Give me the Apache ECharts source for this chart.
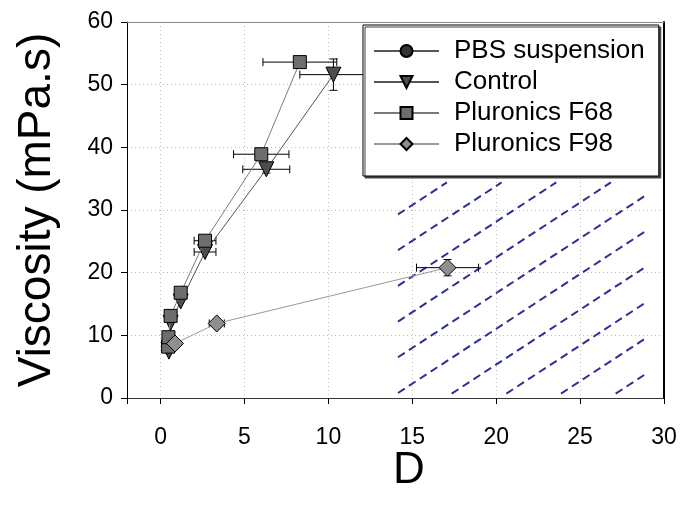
<!DOCTYPE html>
<html><head><meta charset="utf-8">
<script src="https://cdn.jsdelivr.net/npm/echarts@6/dist/echarts.min.js"></script>
<style>html,body{margin:0;padding:0;background:#fff}#c{width:682px;height:513px}</style>
</head><body><div id="c"></div>
<script>
// ---- data ----
const seriesNames = ['PBS suspension', 'Control', 'Pluronics F68', 'Pluronics F98'];
// each point: [D, viscosity, xError, yError]
const pbs = [[0.45, 8.0, 0, 0]];
const control = [[0.5, 7.4, 0, 0], [0.6, 12.0, 0, 0], [1.2, 15.4, 0, 0], [2.65, 23.3, 0.65, 0], [6.3, 36.5, 1.4, 0.6], [10.3, 51.6, 2.0, 2.5]];
const f68 = [[0.45, 8.2, 0, 0], [0.47, 9.7, 0, 0], [0.6, 13.1, 0, 0], [1.2, 16.8, 0, 0], [2.65, 25.1, 0.65, 0], [6.0, 38.9, 1.65, 0], [8.3, 53.6, 2.2, 0]];
const f98 = [[0.86, 8.7, 0, 0], [3.35, 11.9, 0.45, 0], [17.1, 20.8, 1.85, 1.3]];
const xTickLabels = ['0', '5', '10', '15', '20', '25', '30'];
const yTickLabels = ['0', '10', '20', '30', '40', '50', '60'];
const xTitle = 'D';
const yTitle = 'Viscosity (mPa.s)';
// hatched region: parallel dashed lines y = b + slope*(x - xMin) clipped to a box
const hatchIntercepts = [29.3, 23.6, 17.9, 12.2, 6.5, 0.8, -4.9, -10.6, -16.3, -22.0];
const hatchSlope = 1.75;
const hatchBox = { xMin: 14.15, xMax: 29, yMin: 0.7, yMax: 34.4 };

// ---- build ----
const FONT = 'Liberation Sans, Arial, sans-serif';
const hatchSeries = [];
hatchIntercepts.forEach((b, i) => {
  const xa = Math.max(hatchBox.xMin, hatchBox.xMin + (hatchBox.yMin - b) / hatchSlope);
  const xb = Math.min(hatchBox.xMax, hatchBox.xMin + (hatchBox.yMax - b) / hatchSlope);
  if (xa < xb) {
    hatchSeries.push({
      type: 'line', name: 'hatch' + i, silent: true, symbol: 'none', z: 1,
      data: [[xa, b + hatchSlope * (xa - hatchBox.xMin)], [xb, b + hatchSlope * (xb - hatchBox.xMin)]],
      lineStyle: { color: '#2d2f96', width: 2, type: [8, 5] }
    });
  }
});

function errorSeries(data, name) {
  return {
    type: 'custom', name: name, silent: true, z: 2,
    data: data.filter(d => d[2] > 0 || d[3] > 0),
    encode: { x: 0, y: 1 },
    renderItem: function (params, api) {
      const x = api.value(0), y = api.value(1), ex = api.value(2), ey = api.value(3);
      const st = { stroke: '#000', lineWidth: 1 };
      const ch = [];
      const cap = 4;
      if (ex > 0) {
        const a = api.coord([x - ex, y]), c = api.coord([x + ex, y]);
        ch.push({ type: 'line', shape: { x1: a[0], y1: a[1], x2: c[0], y2: c[1] }, style: st });
        ch.push({ type: 'line', shape: { x1: a[0], y1: a[1] - cap, x2: a[0], y2: a[1] + cap }, style: st });
        ch.push({ type: 'line', shape: { x1: c[0], y1: c[1] - cap, x2: c[0], y2: c[1] + cap }, style: st });
      }
      if (ey > 0) {
        const a = api.coord([x, y - ey]), c = api.coord([x, y + ey]);
        ch.push({ type: 'line', shape: { x1: a[0], y1: a[1], x2: c[0], y2: c[1] }, style: st });
        ch.push({ type: 'line', shape: { x1: a[0] - cap, y1: a[1], x2: a[0] + cap, y2: a[1] }, style: st });
        ch.push({ type: 'line', shape: { x1: c[0] - cap, y1: c[1], x2: c[0] + cap, y2: c[1] }, style: st });
      }
      return { type: 'group', children: ch };
    }
  };
}

function lineSeries(name, data, symbol, size, fill, lineColor, rotate, z) {
  return {
    type: 'line', name: name, data: data.map(d => [d[0], d[1]]),
    symbol: symbol, symbolSize: size, symbolRotate: rotate || 0, showAllSymbol: true, z: z,
    itemStyle: { color: fill, borderColor: '#000', borderWidth: 1 },
    lineStyle: { color: lineColor, width: 1 },
    emphasis: { disabled: true }
  };
}

const series = [].concat(hatchSeries, [
  errorSeries(pbs, 'errPBS'), errorSeries(control, 'errControl'), errorSeries(f68, 'errF68'), errorSeries(f98, 'errF98'),
  lineSeries(seriesNames[0], pbs, 'circle', 12, '#333333', '#555555', 0, 3),
  lineSeries(seriesNames[1], control, 'triangle', 15, '#4d4d4d', '#555555', 180, 4),
  lineSeries(seriesNames[2], f68, 'rect', 13, '#6e6e6e', '#7a7a7a', 0, 5),
  lineSeries(seriesNames[3], f98, 'diamond', 17, '#8f8f8f', '#999999', 0, 6)
]);

const chart = echarts.init(document.getElementById('c'), null, { renderer: 'canvas' });
chart.setOption({
  animation: false,
  backgroundColor: '#fff',
  grid: { left: 127, right: 18, top: 22, bottom: 115, containLabel: false },
  xAxis: [{
    type: 'value', min: -2, max: 30, position: 'bottom',
    axisLine: { show: true, onZero: false, lineStyle: { color: '#333', width: 1 } },
    axisTick: { show: true, inside: false, length: 6, lineStyle: { color: '#000' } },
    axisLabel: {
      fontSize: 23, color: '#000', fontFamily: FONT, margin: 28,
      formatter: v => { const i = xTickLabels.indexOf(String(v)); return i >= 0 ? xTickLabels[i] : ''; }
    },
    splitLine: { show: true, lineStyle: { color: '#bbb', type: [1, 3], width: 1 } }
  }, {
    type: 'value', min: -2, max: 30, position: 'top',
    axisLine: { show: true, onZero: false, lineStyle: { color: '#888', width: 1 } },
    axisTick: { show: false }, axisLabel: { show: false }, splitLine: { show: false }
  }],
  yAxis: [{
    type: 'value', min: 0, max: 60, interval: 10, position: 'left',
    axisLine: { show: true, onZero: false, lineStyle: { color: '#000', width: 1 } },
    axisTick: { show: true, inside: false, length: 6, lineStyle: { color: '#000' } },
    axisLabel: {
      fontSize: 23, color: '#000', fontFamily: FONT, margin: 14,
      formatter: v => { const i = yTickLabels.indexOf(String(v)); return i >= 0 ? yTickLabels[i] : ''; }
    },
    splitLine: { show: true, lineStyle: { color: '#bbb', type: [1, 3], width: 1 } }
  }, {
    type: 'value', min: 0, max: 60, position: 'right',
    axisLine: { show: true, onZero: false, lineStyle: { color: '#000', width: 2 } },
    axisTick: { show: false }, axisLabel: { show: false }, splitLine: { show: false }
  }],
  legend: {
    orient: 'vertical', left: 363, top: 25, data: seriesNames,
    itemWidth: 65, itemHeight: 15, itemGap: 5,
    padding: [13, 14, 19, 10],
    backgroundColor: '#fff', borderColor: '#000', borderWidth: 1,
    shadowColor: '#444', shadowOffsetX: 2, shadowOffsetY: 2, shadowBlur: 0,
    textStyle: { fontSize: 26, color: '#000', fontFamily: FONT, padding: [0, 0, 0, 10] },
    selectedMode: false
  },
  graphic: [
    { type: 'text', x: 409, y: 471, style: { text: xTitle, font: '44px ' + FONT, fill: '#000', align: 'center', verticalAlign: 'middle' } },
    { type: 'text', x: 37, y: 210, rotation: Math.PI / 2, style: { text: yTitle, font: '46px ' + FONT, fill: '#000', align: 'center', verticalAlign: 'middle' } }
  ],
  series: series
});
</script>
</body></html>
